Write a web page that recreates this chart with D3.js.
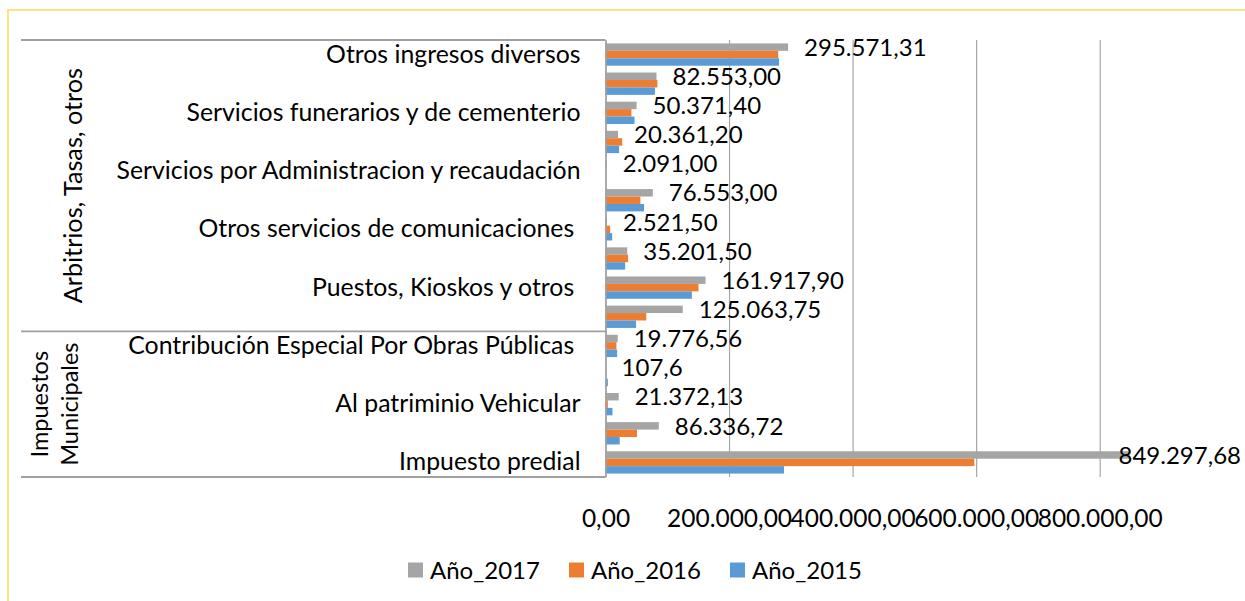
<!DOCTYPE html>
<html><head><meta charset="utf-8">
<script src="https://cdn.jsdelivr.net/npm/d3@7"></script>
<style>
body{margin:0;background:#fff;}
svg text{font-family:Lato,"Open Sans",sans-serif;fill:#000;white-space:pre;}
</style></head><body>
<svg id="c" width="1245" height="601"></svg>
<script>
// ---- data ----
const categories = [
  "Otros ingresos diversos", "",
  "Servicios funerarios y de cementerio", "",
  "Servicios por Administracion y recaudación", "",
  "Otros servicios de comunicaciones ", "",
  "Puestos, Kioskos y otros ", "",
  "Contribución Especial Por Obras Públicas ", "",
  "Al patriminio Vehicular", "",
  "Impuesto predial"
];
const series = ["Año_2017", "Año_2016", "Año_2015"];
const values2017 = [295571.31, 82553.00, 50371.40, 20361.20, 2091.00, 76553.00, 2521.50, 35201.50, 161917.90, 125063.75, 19776.56, 107.6, 21372.13, 86336.72, 849297.68];
const values2016 = [279600, 84000, 42000, 27000, 0, 56500, 7600, 36600, 150500, 66000, 17700, 0, 3800, 51000, 597000];
const values2015 = [281000, 80000, 47000, 22000, 0, 62400, 10800, 31800, 139800, 49500, 18800, 3800, 11300, 23000, 289000];
const labels2017 = ["295.571,31", "82.553,00", "50.371,40", "20.361,20", "2.091,00", "76.553,00", "2.521,50", "35.201,50", "161.917,90", "125.063,75", "19.776,56", "107,6", "21.372,13", "86.336,72", "849.297,68"];
const xTicks = [0, 200000, 400000, 600000, 800000];
const xTickLabels = ["0,00", "200.000,00", "400.000,00", "600.000,00", "800.000,00"];
const groupNames = [["Arbitrios, Tasas, otros"], ["Impuestos", "Municipales"]];
const groupFirst = [0, 10];
const groupLast = [9, 14];
const colors = ["#A5A5A5", "#ED7D31", "#5B9BD5"];

const valuesBySeries = [values2017, values2016, values2015];

// ---- layout ----
const svg = d3.select("#c");
const plotTop = 40, plotBottom = 477, axisX = 605.5;
const x = d3.scaleLinear().domain([0, 800000]).range([axisX, 1099.7]);
const y = d3.scaleBand().domain(d3.range(categories.length)).range([plotTop, plotBottom])
  .paddingInner(0.234).paddingOuter(0.117);
const ySub = d3.scaleBand().domain(series).range([0, y.bandwidth()]);
const color = d3.scaleOrdinal().domain(series).range(colors);

// chart border
svg.append("rect").attr("x", 8).attr("y", 10).attr("width", 1300).attr("height", 700)
  .attr("fill", "none").attr("stroke", "#FFE285").attr("stroke-width", 2);

// gridlines + x labels
const xAxis = svg.append("g").attr("transform", `translate(0,${plotBottom})`)
  .call(d3.axisBottom(x).tickValues(xTicks).tickSize(-(plotBottom - plotTop)).tickSizeOuter(0)
    .tickPadding(33).tickFormat((d, i) => xTickLabels[i]));
xAxis.select(".domain").remove();
xAxis.selectAll("line").attr("stroke", "#A6A6A6").attr("stroke-width", 1.2);
xAxis.selectAll("text").style("font-size", "24.5px").attr("fill", "#000");

// bars
const rows = categories.map((c, i) => ({i, vals: series.map((s, k) => ({s, v: valuesBySeries[k][i]}))}));
const g = svg.append("g");
g.selectAll("g.row").data(rows).join("g").attr("class", "row")
  .attr("transform", d => `translate(0,${y(d.i)})`)
  .selectAll("rect").data(d => d.vals).join("rect")
  .attr("x", x(0)).attr("y", d => ySub(d.s))
  .attr("width", d => x(d.v) - x(0)).attr("height", ySub.bandwidth())
  .attr("fill", d => color(d.s));

// category axis
const yAxis = svg.append("g").attr("transform", `translate(${axisX},0)`)
  .call(d3.axisLeft(y).tickSize(0).tickSizeOuter(0).tickPadding(25).tickFormat(i => categories[i]));
yAxis.select(".domain").attr("stroke", "#A0A0A0").attr("stroke-width", 1.5);
yAxis.selectAll("text").style("font-size", "24.8px").attr("fill", "#000");

// group separators
const step = y.step();
const boundaries = [plotTop].concat(groupLast.map(l => plotTop + (l + 1) * step));
svg.selectAll("line.grp").data(boundaries).join("line").attr("class", "grp")
  .attr("x1", 21).attr("x2", axisX).attr("y1", d => d).attr("y2", d => d)
  .attr("stroke", "#A0A0A0").attr("stroke-width", 1.8);

// group labels
const groupBaseX = [[82], [48, 78]];
const groupFont = [25.2, 23.5];
groupNames.forEach((lines, gi) => {
  const cy = plotTop + (groupFirst[gi] + groupLast[gi] + 1) / 2 * step;
  lines.forEach((t, li) => {
    svg.append("text").attr("transform", `translate(${groupBaseX[gi][li]},${cy}) rotate(-90)`)
      .attr("text-anchor", "middle").style("font-size", groupFont[gi] + "px").text(t);
  });
});

// data labels (Año_2017)
svg.selectAll("text.dl").data(values2017).join("text").attr("class", "dl")
  .attr("x", d => x(d) + 16)
  .attr("y", (d, i) => y(i) + ySub(series[0]) + ySub.bandwidth() / 2)
  .attr("dy", "0.36em").style("font-size", "24px")
  .text((d, i) => labels2017[i])
  .each(function () {
    const w = this.getComputedTextLength();
    const xx = +this.getAttribute("x");
    if (xx + w > 1241) this.setAttribute("x", 1241 - w);
  });

// legend
const legX = [408, 569, 730];
const leg = svg.selectAll("g.leg").data(series).join("g").attr("class", "leg")
  .attr("transform", (d, i) => `translate(${legX[i]},570)`);
leg.append("rect").attr("x", 0).attr("y", -7.5).attr("width", 15).attr("height", 15).attr("fill", d => color(d));
leg.append("text").attr("x", 22).attr("dy", "0.36em").style("font-size", "24px").text(d => d);
</script>
</body></html>
